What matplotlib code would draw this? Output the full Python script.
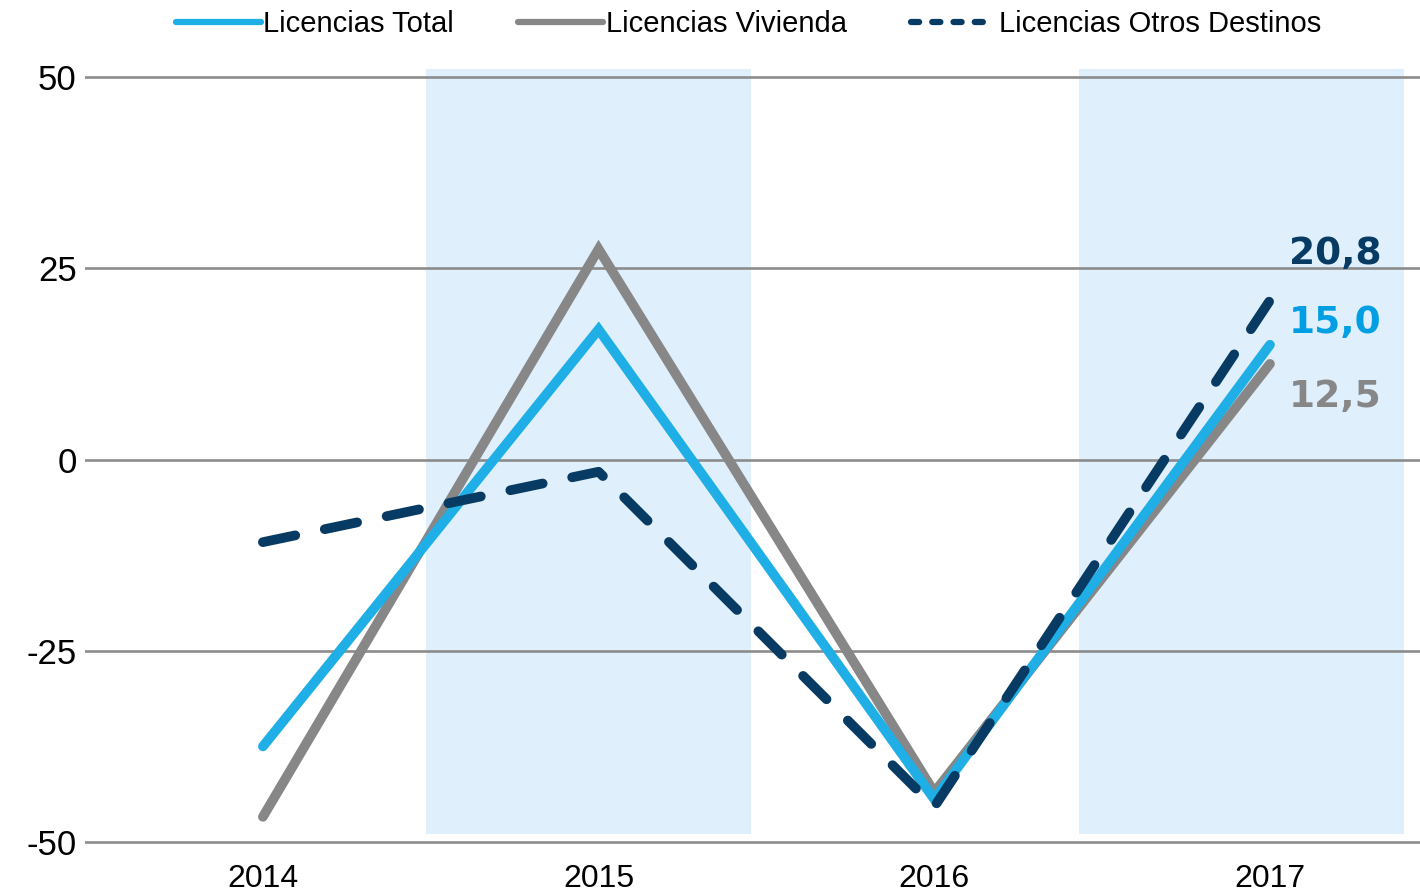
import matplotlib
matplotlib.use("Agg")
import matplotlib.pyplot as plt

years = ["2014", "2015", "2016", "2017"]
total = [-37.5, 17.0, -44.4, 15.0]
vivienda = [-46.7, 27.5, -43.5, 12.5]
otros = [-10.8, -1.6, -45.4, 20.8]
yticks = [-50, -25, 0, 25, 50]
end_labels = ["20,8", "15,0", "12,5"]

plt.rcParams['font.family'] = ['Liberation Sans', 'DejaVu Sans']

c_total = "#1FAEE5"
c_viv = "#878787"
c_otros = "#073B63"

fig = plt.figure(figsize=(14.2, 8.93), dpi=100)
ax = fig.add_axes([85/1420, 0.0485, 1 - 85/1420, 0.9309 - 0.0485])

x = list(range(len(years)))
ax.set_xlim(-0.53, 3.447)
ax.set_ylim(-51, 52)

for lo, hi in [(0.486, 1.454), (2.43, 3.40)]:
    ax.fill_between([lo, hi], -49, 51, color="#DFEFFC", zorder=0, lw=0)

for t in yticks:
    ax.axhline(t, color="#8C8C8C", lw=1.9, zorder=1)

ax.plot(x, total, color=c_total, lw=7, solid_capstyle='round', solid_joinstyle='miter', zorder=3, label="Licencias Total")
ax.plot(x, vivienda, color=c_viv, lw=7, solid_capstyle='round', solid_joinstyle='miter', zorder=2, label="Licencias Vivienda")
ax.plot(x, otros, color=c_otros, lw=7, dashes=(3.4, 3.1), dash_capstyle='round', zorder=4, label="Licencias Otros Destinos")

lab_kw = dict(fontsize=27, fontweight='bold', ha='right', va='center', zorder=5, family='DejaVu Sans')
ax.text(3.333, 26.8, end_labels[0], color=c_otros, **lab_kw)
ax.text(3.333, 17.9, end_labels[1], color="#009FE3", **lab_kw)
ax.text(3.333, 8.2, end_labels[2], color=c_viv, **lab_kw)

ax.set_xticks(x)
ax.set_xticklabels(years, fontsize=23)
ax.set_yticks(yticks)
ax.set_yticklabels([str(t) for t in yticks], fontsize=25)
ax.tick_params(length=0)
ax.tick_params(axis='y', pad=6)
ax.tick_params(axis='x', pad=10)
for s in ax.spines.values():
    s.set_visible(False)

leg = fig.legend(loc='upper center', bbox_to_anchor=(0.527, 1.018), ncol=3, frameon=False,
                 fontsize=21, handlelength=2.9, handletextpad=0.1, columnspacing=2.2)
for h in leg.get_lines():
    h.set_linewidth(4.5)
leg.get_lines()[2].set_dashes((1.3, 2.1))

fig.savefig("out.png", dpi=100)
